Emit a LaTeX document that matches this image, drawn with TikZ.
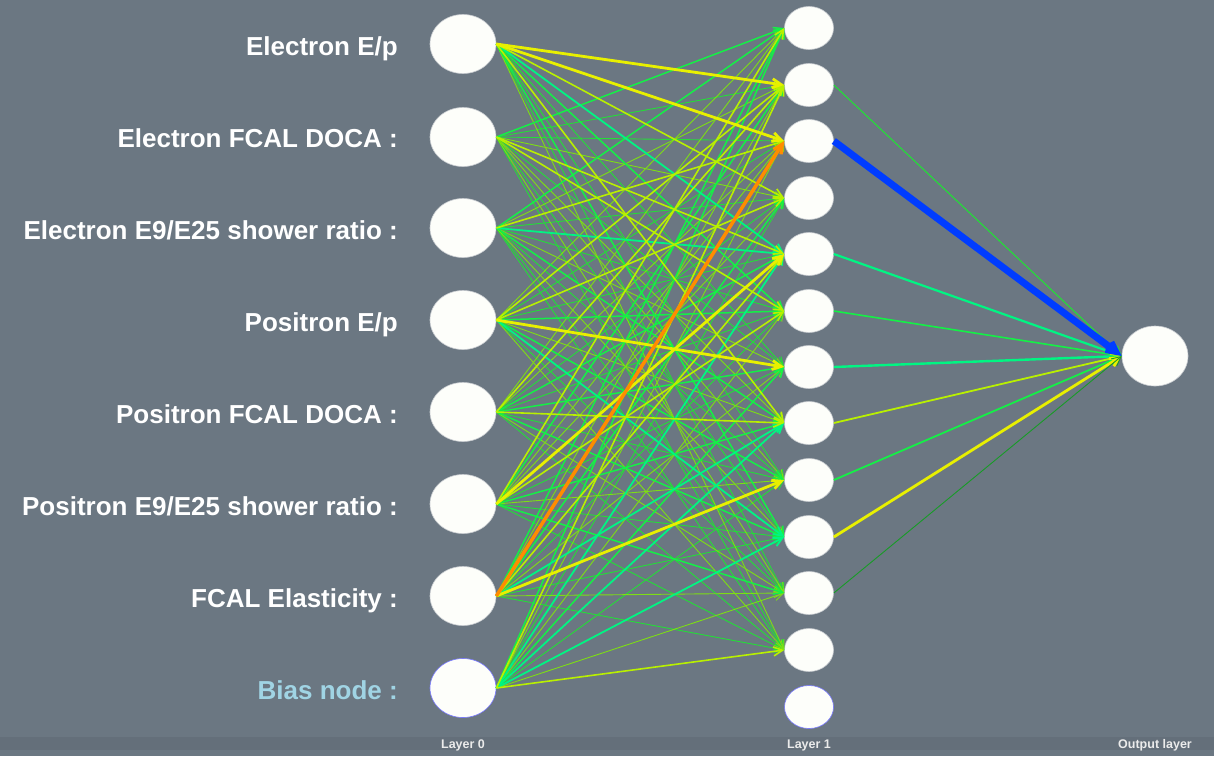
\documentclass[tikz,border=0pt]{standalone}
\usepackage{fontspec}
\setmainfont{Liberation Sans}
\usetikzlibrary{arrows.meta,shapes.geometric}

\definecolor{bg}{RGB}{107,119,130}
\definecolor{bgstrip}{RGB}{100,111,122}
\definecolor{nodefill}{RGB}{253,254,250}
\definecolor{nodeedge}{RGB}{200,204,208}
\definecolor{biasedge}{RGB}{120,120,255}
\definecolor{biastext}{RGB}{160,212,228}
\definecolor{ca}{RGB}{35,222,55}
\definecolor{cb}{RGB}{125,222,20}
\definecolor{cc}{RGB}{20,240,70}
\definecolor{cd}{RGB}{0,245,130}
\definecolor{ce}{RGB}{185,240,0}
\definecolor{cf}{RGB}{232,240,0}
\definecolor{co}{RGB}{255,140,0}
\definecolor{wblue}{RGB}{0,60,255}

\tikzset{
  inode/.style={ellipse, fill=nodefill, draw=nodeedge, line width=0.6pt,
    minimum width=66pt, minimum height=59pt, inner sep=0pt},
  hnode/.style={ellipse, fill=nodefill, draw=nodeedge, line width=0.6pt,
    minimum width=49pt, minimum height=43pt, inner sep=0pt},
  onode/.style={ellipse, fill=nodefill, draw=nodeedge, line width=0.6pt,
    minimum width=66pt, minimum height=60pt, inner sep=0pt},
  biasnode/.style={draw=biasedge},
  lab/.style={anchor=base east, text=white, inner sep=0pt,
    font=\bfseries\fontsize{26}{30}\selectfont},
  layerlab/.style={anchor=base, text=white!92!black, inner sep=0pt,
    font=\bfseries\fontsize{12.5}{14}\selectfont},
  tip/.style={-{Straight Barb[length=9pt,width=9pt]}},
  wa/.style={tip, draw=ca, line width=0.9pt},
  wb/.style={tip, draw=cb, line width=0.9pt},
  wc/.style={tip, draw=cc, line width=1.5pt},
  wd/.style={tip, draw=cd, line width=1.8pt},
  we/.style={tip, draw=ce, line width=1.6pt},
  wf/.style={tip, draw=cf, line width=2.8pt},
  wo/.style={tip, draw=co, line width=3.5pt},
}

\begin{document}
\begin{tikzpicture}[x=1pt,y=-1pt]
  % canvas
  \fill[bg] (0,0) rectangle (1214,756);
  \useasboundingbox (0,0) rectangle (1214,756);
  \fill[bgstrip] (0,737) rectangle (1214,750);

  % input layer
  \foreach \i/\y in {0/44,1/137,2/228,3/320,4/412,5/504,6/596}
    \node[inode] (i\i) at (463,\y) {};
  \node[inode,biasnode] (i7) at (463,688) {};

  % hidden layer
  \foreach \j/\y in {1/28,2/85,3/141,4/198,5/254,6/311,7/367,8/423,9/480,10/537,11/593,12/650}
    \node[hnode] (h\j) at (809,\y) {};
  \node[hnode,biasnode] (h13) at (809,707) {};

  % output layer
  \node[onode] (out) at (1155,356) {};

  % input labels
  \node[lab] (t0) at (398,55) {Electron E/p};
  \node[lab] (t1) at (398,147) {Electron FCAL DOCA :};
  \node[lab] (t2) at (398,239) {Electron E9/E25 shower ratio :};
  \node[lab] (t3) at (398,331) {Positron E/p};
  \node[lab] (t4) at (398,423) {Positron FCAL DOCA :};
  \node[lab] (t5) at (398,515) {Positron E9/E25 shower ratio :};
  \node[lab] (t6) at (398,607) {FCAL Elasticity :};
  \node[lab,text=biastext] (t7) at (398,699) {Bias node :};

  % layer captions
  \node[layerlab] (l0) at (463,748) {Layer 0};
  \node[layerlab] (l1) at (809,748) {Layer 1};
  \node[layerlab] (l2) at (1155,748) {Output layer};

  % input -> hidden weights, thin ones first
  \foreach \s/\t in {0/7,0/9,0/11,1/2,1/3,1/7,1/10,1/12,2/4,2/6,2/9,2/11,2/12,
                     3/3,3/5,3/11,4/4,4/6,4/9,4/12,5/7,5/10,5/12,6/6,6/10,6/12,7/4,7/9}
    \draw[wa] (i\s.east) -- (h\t.west);
  \foreach \s/\t in {0/12,1/4,1/8,1/9,1/11,2/2,2/7,2/10,3/1,3/8,3/12,4/1,4/3,4/11,
                     5/3,5/4,5/9,6/2,6/7,6/11,7/3,7/6,7/11}
    \draw[wb] (i\s.east) -- (h\t.west);
  \foreach \s/\t in {0/6,0/10,1/1,2/1,2/8,3/6,3/9,4/5,4/7,4/10,5/2,5/8,5/11,6/1,6/4,7/1,7/7}
    \draw[wc] (i\s.east) -- (h\t.west);
  \foreach \s/\t in {0/5,2/5,3/10,6/8,7/5,7/8,7/10}
    \draw[wd] (i\s.east) -- (h\t.west);
  \foreach \s/\t in {0/4,0/8,1/5,1/6,2/3,3/2,3/4,4/2,4/8,5/1,5/6,6/5,7/2,7/12}
    \draw[we] (i\s.east) -- (h\t.west);
  \foreach \s/\t in {0/2,0/3,3/7,5/5,6/9}
    \draw[wf] (i\s.east) -- (h\t.west);
  \draw[wo] (i6.east) -- (h3.west);

  % hidden -> output weights
  \draw[tip, draw=ca, line width=1.1pt] (h2.east) -- (out.west);
  \draw[tip, draw=cd, line width=2.2pt] (h5.east) -- (out.west);
  \draw[tip, draw=cc, line width=1.6pt] (h6.east) -- (out.west);
  \draw[tip, draw=cd, line width=2.4pt] (h7.east) -- (out.west);
  \draw[tip, draw=ce, line width=1.8pt] (h8.east) -- (out.west);
  \draw[tip, draw=cc, line width=1.8pt] (h9.east) -- (out.west);
  \draw[tip, draw=cf, line width=2.8pt] (h10.east) -- (out.west);
  \draw[tip, draw=ca!70!black, line width=0.9pt] (h11.east) -- (out.west);
  \draw[tip, draw=wblue, line width=7pt] (h3.east) -- (out.west);
\end{tikzpicture}
\end{document}
